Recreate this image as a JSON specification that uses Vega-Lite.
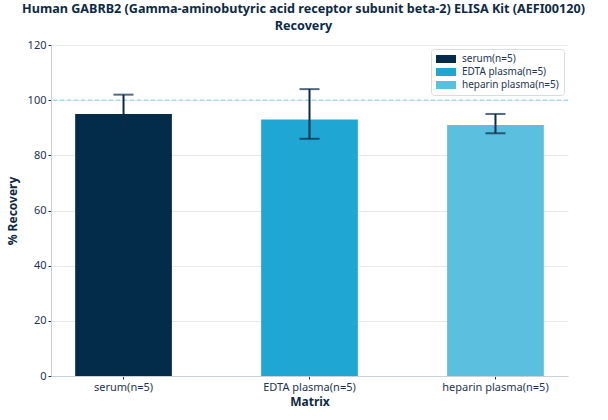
{
  "$schema": "https://vega.github.io/schema/vega-lite/v6.json",
  "width": 517,
  "height": 331,
  "autosize": {"type": "none"},
  "padding": {"left": 51, "top": 45, "right": 40, "bottom": 44},
  "title": {
    "text": ["Human GABRB2 (Gamma-aminobutyric acid receptor subunit beta-2) ELISA Kit (AEFI00120)", "Recovery"],
    "anchor": "middle",
    "dx": -6,
    "offset": 6,
    "fontSize": 12.6,
    "fontWeight": "bold",
    "color": "#0d2a45",
    "font": "Noto Sans",
    "lineHeight": 17
  },
  "config": {
    "font": "Noto Sans",
    "view": {"stroke": null},
    "axis": {
      "labelColor": "#1d3552",
      "titleColor": "#0d2a45",
      "labelFontSize": 11,
      "titleFontSize": 12,
      "titleFontWeight": "bold",
      "domainColor": "#c9d0d8",
      "tickColor": "#1d3552",
      "tickSize": 3,
      "gridColor": "#e6e8eb"
    }
  },
  "data": {
    "values": [
      {"matrix": "serum(n=5)", "recovery": 95, "lower": 88, "upper": 102},
      {"matrix": "EDTA plasma(n=5)", "recovery": 93, "lower": 86, "upper": 104},
      {"matrix": "heparin plasma(n=5)", "recovery": 91, "lower": 88, "upper": 95}
    ]
  },
  "encoding": {
    "x": {
      "field": "matrix",
      "type": "nominal",
      "sort": null,
      "title": "Matrix",
      "scale": {"paddingInner": 0.48, "paddingOuter": 0.13},
      "axis": {"labelAngle": 0, "grid": false, "titlePadding": 4}
    }
  },
  "layer": [
    {
      "mark": {"type": "bar"},
      "encoding": {
        "y": {
          "field": "recovery",
          "type": "quantitative",
          "title": "% Recovery",
          "scale": {"domain": [0, 120]},
          "axis": {"values": [0, 20, 40, 60, 80, 100, 120], "titlePadding": 8}
        },
        "color": {
          "field": "matrix",
          "type": "nominal",
          "sort": null,
          "scale": {
            "domain": ["serum(n=5)", "EDTA plasma(n=5)", "heparin plasma(n=5)"],
            "range": ["#032b4a", "#20a6d3", "#5bbfe0"]
          },
          "legend": {
            "title": null,
            "orient": "top-right",
            "offset": 4,
            "symbolType": "M-2,-0.8H2V0.8H-2Z",
            "symbolSize": 100,
            "symbolStrokeWidth": 0,
            "symbolOffset": 5,
            "labelFontSize": 10,
            "labelOffset": 11,
            "labelColor": "#1d3552",
            "fillColor": "white",
            "strokeColor": "#d8dde3",
            "cornerRadius": 3,
            "padding": 5,
            "rowPadding": 3
          }
        }
      }
    },
    {
      "mark": {"type": "rule", "color": "#7fcde8", "strokeDash": [4, 3], "strokeWidth": 1},
      "data": {"values": [{"ref": 100}]},
      "encoding": {"y": {"field": "ref", "type": "quantitative"}, "x": null}
    },
    {
      "mark": {"type": "rule", "color": "#0b2b48", "strokeWidth": 2},
      "encoding": {
        "y": {"field": "lower", "type": "quantitative"},
        "y2": {"field": "upper"}
      }
    },
    {
      "mark": {"type": "tick", "color": "#0b2b48", "size": 20, "thickness": 2},
      "encoding": {"y": {"field": "upper", "type": "quantitative"}}
    },
    {
      "mark": {"type": "tick", "color": "#0b2b48", "size": 20, "thickness": 2},
      "encoding": {"y": {"field": "lower", "type": "quantitative"}}
    }
  ]
}
